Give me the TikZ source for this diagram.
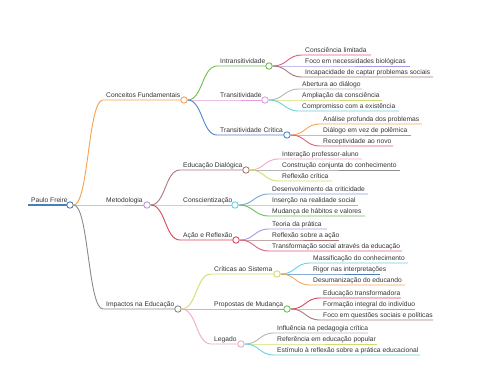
\documentclass[tikz,border=0pt]{standalone}
\usepackage{fontspec}
\setmainfont{Liberation Sans}
\usetikzlibrary{positioning}

\definecolor{cBlue}{HTML}{4A7EBB}
\definecolor{cOrange}{HTML}{F5A04A}
\definecolor{cPurple}{HTML}{B79AD8}
\definecolor{cGray}{HTML}{8A8A8A}
\definecolor{cGreen}{HTML}{6CC04A}
\definecolor{cViolet}{HTML}{E39CE0}
\definecolor{cSky}{HTML}{4F86C6}
\definecolor{cRed}{HTML}{E0607A}
\definecolor{cLilac}{HTML}{A49BE4}
\definecolor{cBrown}{HTML}{A77A7A}
\definecolor{cSilver}{HTML}{B5B5B5}
\definecolor{cLime}{HTML}{D2DC6C}
\definecolor{cCyan}{HTML}{66D3E3}
\definecolor{cAmber}{HTML}{F5A65A}
\definecolor{cLeaf}{HTML}{6CBF5C}
\definecolor{cPink}{HTML}{F0A8C8}
\definecolor{cAsh}{HTML}{8E8E8E}
\definecolor{cCrimson}{HTML}{D9445A}
\definecolor{cSteel}{HTML}{7DA4D8}
\definecolor{cText}{HTML}{333333}

% parent, name, line start x, line end x, y, colour, text
\newcommand{\topic}[7]{%
  \coordinate (#2-s) at (#3,#5);
  \coordinate (#2-e) at (#4,#5);
  \node[topic] (#2-t) at ({#3+3},{#5-2.5}) {#7};
  \draw[link=#6] (#1.east) .. controls +(15,0) and +(-15,0) .. (#2-s) -- (#2-e);
}
% knot at the end of a topic line
\newcommand{\knot}[2]{\node[knot=#2] (#1) at (#1-e) {};}

\begin{document}
\begin{tikzpicture}[
    x=1pt, y=-1pt,
    topic/.style={anchor=base west, inner sep=0pt, text=cText,
      font=\fontsize{6.7}{8}\selectfont},
    link/.style={draw=#1, line width=0.9pt},
    knot/.style={circle, draw=#1, fill=white, line width=0.9pt,
      inner sep=0pt, minimum size=6.4pt}
]
\useasboundingbox (0,0) rectangle (480,384);

% root
\coordinate (root-s) at (28,205);
\coordinate (root-e) at (70,205);
\node[topic] (root-t) at (31,202.5) {Paulo Freire};
\draw[link=cBlue, line width=1.6pt] (root-s) -- (root-e);
\knot{root}{cBlue}

% main branches
\topic{root}{conc}{103}{184}{100}{cOrange}{Conceitos Fundamentais}
\knot{conc}{cOrange}
\topic{root}{meto}{103}{147}{205}{cPurple}{Metodologia}
\knot{meto}{cPurple}
\topic{root}{impa}{103}{178}{309}{cGray}{Impactos na Educação}
\knot{impa}{cGray}

% Conceitos Fundamentais
\topic{conc}{intr}{217}{269}{66}{cGreen}{Intransitividade}
\knot{intr}{cGreen}
\topic{conc}{tran}{217}{265}{100}{cViolet}{Transitividade}
\knot{tran}{cViolet}
\topic{conc}{crit}{217}{287}{135}{cSky}{Transitividade Crítica}
\knot{crit}{cSky}

\topic{intr}{intr1}{302}{371}{55}{cRed}{Consciência limitada}
\topic{intr}{intr2}{302}{410}{66}{cLilac}{Foco em necessidades biológicas}
\topic{intr}{intr3}{302}{433}{77}{cBrown}{Incapacidade de captar problemas sociais}

\topic{tran}{tran1}{299}{362}{89}{cSilver}{Abertura ao diálogo}
\topic{tran}{tran2}{299}{382}{100}{cLime}{Ampliação da consciência}
\topic{tran}{tran3}{299}{399}{111}{cCyan}{Compromisso com a existência}

\topic{crit}{crit1}{320}{422}{124}{cAmber}{Análise profunda dos problemas}
\topic{crit}{crit2}{320}{411}{135}{cLeaf}{Diálogo em vez de polêmica}
\topic{crit}{crit3}{320}{393}{146}{cRed}{Receptividade ao novo}

% Metodologia
\topic{meto}{dial}{180}{246}{170}{cBrown}{Educação Dialógica}
\knot{dial}{cBrown}
\topic{meto}{cons}{180}{235}{205}{cCyan}{Conscientização}
\knot{cons}{cCyan}
\topic{meto}{acao}{180}{236}{240}{cCrimson}{Ação e Reflexão}
\knot{acao}{cCrimson}

\topic{dial}{dial1}{279}{362}{159}{cPink}{Interação professor-aluno}
\topic{dial}{dial2}{279}{400}{170}{cAsh}{Construção conjunta do conhecimento}
\topic{dial}{dial3}{279}{332}{181}{cLime}{Reflexão crítica}

\topic{cons}{cons1}{269}{368}{194}{cSteel}{Desenvolvimento da criticidade}
\topic{cons}{cons2}{269}{358}{205}{cAmber}{Inserção na realidade social}
\topic{cons}{cons3}{269}{365}{216}{cLeaf}{Mudança de hábitos e valores}

\topic{acao}{acao1}{269}{327}{229}{cLilac}{Teoria da prática}
\topic{acao}{acao2}{269}{339}{240}{cBrown}{Reflexão sobre a ação}
\topic{acao}{acao3}{269}{402}{251}{cRed}{Transformação social através da educação}

% Impactos na Educação
\topic{impa}{sist}{211}{277}{274}{cLime}{Críticas ao Sistema}
\knot{sist}{cLime}
\topic{impa}{prop}{211}{287}{309}{cLeaf}{Propostas de Mudança}
\knot{prop}{cLeaf}
\topic{impa}{lega}{211}{241}{344}{cPink}{Legado}
\knot{lega}{cPink}

\topic{sist}{sist1}{310}{408}{263}{cCyan}{Massificação do conhecimento}
\topic{sist}{sist2}{310}{380}{274}{cBlue}{Rigor nas interpretações}
\topic{sist}{sist3}{310}{405}{285}{cAmber}{Desumanização do educando}

\topic{prop}{prop1}{320}{401}{298}{cCrimson}{Educação transformadora}
\topic{prop}{prop2}{320}{415}{309}{cLilac}{Formação integral do indivíduo}
\topic{prop}{prop3}{320}{433}{320}{cBrown}{Foco em questões sociais e políticas}

\topic{lega}{lega1}{274}{368}{333}{cSilver}{Influência na pedagogia crítica}
\topic{lega}{lega2}{274}{377}{344}{cLime}{Referência em educação popular}
\topic{lega}{lega3}{274}{420}{355}{cCyan}{Estímulo à reflexão sobre a prática educacional}
\end{tikzpicture}
\end{document}
